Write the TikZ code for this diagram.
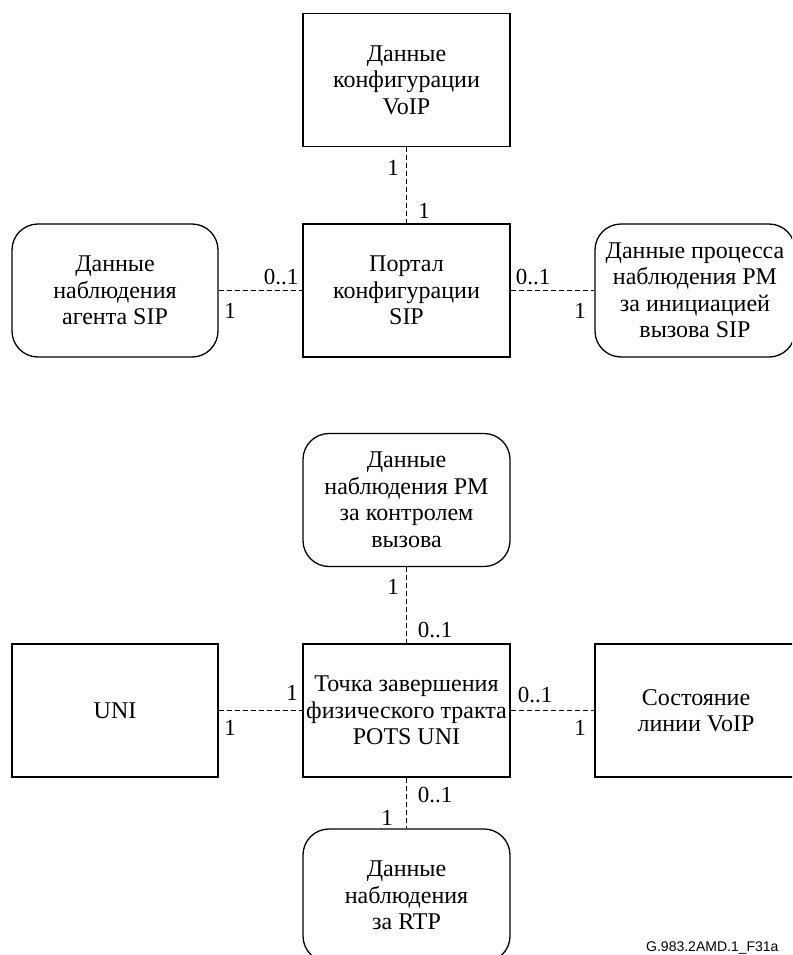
\documentclass[tikz,border=0pt]{standalone}
\usepackage{fontspec}
\setmainfont{Liberation Serif}
\newfontfamily\labelfont{Liberation Sans}
\begin{document}
\begin{tikzpicture}[x=1pt,y=-1pt,
  box/.style={draw,line width=1.3pt,minimum width=207pt,minimum height=133pt,align=center,inner sep=0pt,font=\fontsize{24}{26.5}\selectfont},
  rbox/.style={box,rounded corners=26pt},
  link/.style={line width=0.8pt,dash pattern=on 5pt off 3pt},
  mult/.style={font=\fontsize{23}{26.5}\selectfont,inner sep=0pt}]
\useasboundingbox (0,0) rectangle (792,955);
\clip (0,0) rectangle (792,955);

% top group
\node[box] (cfg) at (406.5,80) {Данные\\конфигурации\\VoIP};
\node[box] (portal) at (406.5,290.5) {Портал\\конфигурации\\SIP};
\node[rbox,minimum width=206pt] (agent) at (115,290.5) {Данные\\наблюдения\\агента SIP};
\node[rbox,minimum width=200pt] (pmsip) at (695,290.5) {Данные процесса\\наблюдения PM\\за инициацией\\вызова SIP};

\draw[link] (cfg.south) -- (portal.north);
\draw[link] (agent.east) -- (portal.west);
\draw[link] (portal.east) -- (pmsip.west);

\node[mult] (m1) at (393,168) {1};
\node[mult] (m2) at (424,211) {1};
\node[mult] (m3) at (281,277) {0..1};
\node[mult] (m4) at (230,311) {1};
\node[mult] (m5) at (533,277) {0..1};
\node[mult] (m6) at (580,311) {1};

% bottom group
\node[rbox] (pmcall) at (406.5,500) {Данные\\наблюдения PM\\за контролем\\вызова};
\node[box] (pots) at (406.5,710.5) {Точка завершения\\физического тракта\\POTS UNI};
\node[box,minimum width=206pt] (uni) at (115,710.5) {UNI};
\node[box,minimum width=202pt] (state) at (696,710.5) {Состояние\\линии VoIP};
\node[rbox] (rtp) at (406.5,895.5) {Данные\\наблюдения\\за RTP};

\draw[link] (pmcall.south) -- (pots.north);
\draw[link] (uni.east) -- (pots.west);
\draw[link] (pots.east) -- (state.west);
\draw[link] (pots.south) -- (rtp.north);

\node[mult] (m7) at (393,587) {1};
\node[mult] (m8) at (435,630) {0..1};
\node[mult] (m9) at (292,693) {1};
\node[mult] (m10) at (230,728) {1};
\node[mult] (m11) at (535,695) {0..1};
\node[mult] (m12) at (580,728) {1};
\node[mult] (m13) at (435,795) {0..1};
\node[mult] (m14) at (387,818) {1};

\node[anchor=base west,inner sep=0pt,font=\labelfont\fontsize{14}{16}\selectfont] (fig) at (646,951) {G.983.2AMD.1\_F31a};
\end{tikzpicture}
\end{document}
